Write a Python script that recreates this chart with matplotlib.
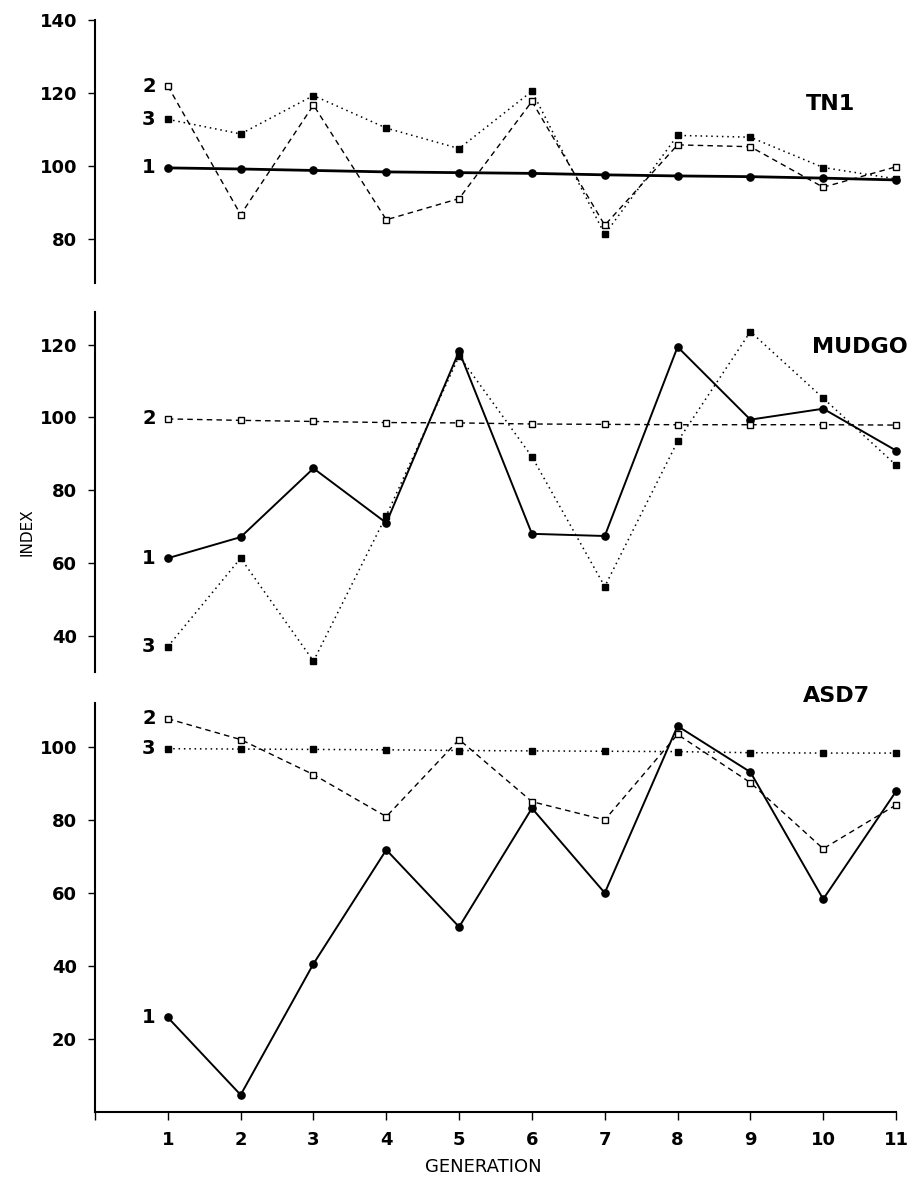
import numpy as np
import matplotlib
matplotlib.use("Agg")
from matplotlib import pyplot as plt

plt.rcParams['font.family'] = ['DejaVu Sans']

generation = np.arange(1, 12)

# TN1
tn1_s1 = [99.5, 99.2, 98.8, 98.4, 98.2, 98.0, 97.6, 97.3, 97.1, 96.7, 96.2]
tn1_s2 = [121.9, 86.7, 116.7, 85.3, 91.1, 117.7, 83.8, 105.8, 105.3, 94.2, 99.8]
tn1_s3 = [112.8, 108.8, 119.3, 110.4, 104.8, 120.5, 81.3, 108.4, 107.9, 99.6, 96.5]

# MUDGO
mudgo_s1 = [61.3, 67.1, 86.0, 71.0, 118.2, 68.0, 67.4, 119.4, 99.4, 102.4, 90.9]
mudgo_s2 = [99.6, 99.2, 98.9, 98.6, 98.5, 98.2, 98.1, 98.0, 98.0, 98.0, 97.9]
mudgo_s3 = [37.0, 61.3, 33.0, 73.0, 116.9, 89.2, 53.5, 93.4, 123.6, 105.3, 86.9]

# ASD7
asd7_s1 = [25.9, 4.7, 40.6, 71.8, 50.7, 83.2, 60.0, 105.7, 93.1, 58.3, 87.8]
asd7_s2 = [107.7, 102.0, 92.4, 80.9, 102.0, 85.0, 80.0, 103.4, 90.2, 72.1, 84.1]
asd7_s3 = [99.5, 99.4, 99.3, 99.2, 99.0, 98.9, 98.8, 98.7, 98.4, 98.3, 98.3]

fig = plt.figure(figsize=(9.19, 11.8), dpi=100)

left, width = 0.1034, 0.8716
ax1 = fig.add_axes([left, 0.7602, width, 0.2229])
ax2 = fig.add_axes([left, 0.4305, width, 0.3051])
ax3 = fig.add_axes([left, 0.0576, width, 0.3466])


def draw(ax, s1, s2, s3, ylim, yticks, name, name_xy, lw1=1.4):
    ax.plot(generation, s1, color='black', lw=lw1, ls='-', marker='o', ms=5.2,
            mfc='black', mec='black', clip_on=False, zorder=3)
    ax.plot(generation, s2, color='black', lw=1.0, ls=(0, (4, 3)), marker='s', ms=4.8,
            mfc='white', mec='black', mew=1.0, clip_on=False, zorder=4)
    ax.plot(generation, s3, color='black', lw=1.1, ls=(0, (1, 2.5)), marker='s', ms=4.8,
            mfc='black', mec='black', clip_on=False, zorder=3)
    for lab, s in (('1', s1), ('2', s2), ('3', s3)):
        ax.text(0.74, s[0], lab, ha='center', va='center', fontsize=14, fontweight='bold')
    ax.text(name_xy[0], name_xy[1], name, ha='center', va='center', fontsize=16,
            fontweight='bold', clip_on=False)
    ax.set_xlim(0, 11)
    ax.set_ylim(*ylim)
    ax.set_yticks(yticks)
    ax.tick_params(axis='y', direction='out', length=5, width=1, pad=8,
                   labelsize=13)
    for t in ax.get_yticklabels():
        t.set_fontweight('bold')
    for side in ('top', 'right'):
        ax.spines[side].set_visible(False)
    ax.spines['left'].set_linewidth(1.5)


draw(ax1, tn1_s1, tn1_s2, tn1_s3, (68, 140), [80, 100, 120, 140], 'TN1', (10.1, 117), lw1=2.0)
draw(ax2, mudgo_s1, mudgo_s2, mudgo_s3, (30, 129), [40, 60, 80, 100, 120], 'MUDGO', (10.5, 119.5))
draw(ax3, asd7_s1, asd7_s2, asd7_s3, (0, 112), [20, 40, 60, 80, 100], 'ASD7', (10.18, 114))

for ax in (ax1, ax2):
    ax.spines['bottom'].set_visible(False)
    ax.set_xticks([])

ax3.spines['bottom'].set_linewidth(1.5)
ax3.set_xticks(np.arange(0, 12))
ax3.set_xticklabels([''] + [str(g) for g in generation])
ax3.tick_params(axis='x', direction='out', length=6, width=1, pad=8, labelsize=13)
for t in ax3.get_xticklabels():
    t.set_fontweight('bold')

fig.text(0.029, 0.549, 'INDEX', rotation=90, ha='center', va='center', fontsize=11)
fig.text(0.526, 0.011, 'GENERATION', ha='center', va='center', fontsize=13)

fig.savefig('out.png', dpi=100)
